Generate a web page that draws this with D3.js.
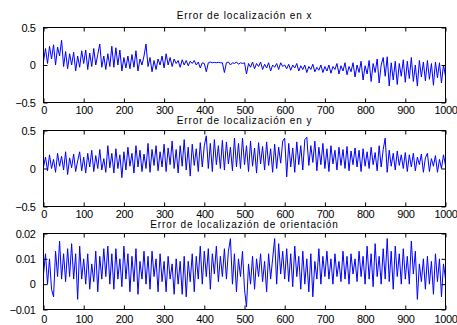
<!DOCTYPE html>
<html>
<head>
<meta charset="utf-8">
<script src="https://cdn.jsdelivr.net/npm/d3@7"></script>
<style>
  body { margin: 0; background: #fff; }
  svg { display: block; }
  .tick text { font-family: "Liberation Sans", Arial, sans-serif; font-size: 11px; fill: #000; letter-spacing: -0.4px; }
  .title { font-family: "Liberation Sans", Arial, sans-serif; font-size: 10px; fill: #000; letter-spacing: 0.9px; }
</style>
</head>
<body>
<figure id="chart" style="margin:0"></figure>
<script>
// sample index -> iteration (every 5 iterations)
const sampleStep = 5;

const errX = [
  0.05, 0.22, 0.02, 0.25, 0.08, 0.27, 0.0, 0.24, 0.12, 0.33, -0.02,
  0.18, -0.05, 0.15, 0.0, 0.17, -0.08, 0.12, -0.03, 0.19, 0.02,
  0.2, -0.06, 0.16, -0.02, 0.22, 0.0, 0.14, 0.28, -0.03, 0.12,
  -0.06, 0.15, -0.02, 0.25, -0.03, 0.23, 0.0, 0.2, -0.08, 0.1,
  -0.04, 0.12, -0.05, 0.14, -0.03, 0.19, -0.08, 0.08, 0.0, 0.12,
  0.28, -0.02, 0.1, -0.09, 0.06, -0.06, 0.08, 0.0, 0.12, -0.04,
  0.15, 0.0, 0.1, -0.02, 0.08, 0.02, 0.06, -0.03, 0.07, 0.0,
  0.06, -0.01, 0.05, 0.02, 0.06, 0.0, 0.04, -0.04, 0.03, 0.02,
  -0.09, 0.03, 0.04, 0.03, 0.035, 0.03, 0.035, 0.03, 0.03, -0.1,
  0.03, 0.04, 0.0, 0.03, 0.02, 0.04, 0.01, 0.03, 0.02, 0.03,
  -0.12, 0.02, -0.03, 0.04, -0.05, 0.02, -0.02, 0.04, -0.06, 0.01,
  -0.04, 0.03, -0.08, 0.0, -0.03, 0.02, -0.06, 0.03, -0.02, 0.0,
  -0.05, 0.01, -0.07, 0.0, -0.04, 0.02, -0.08, -0.01, -0.06, 0.0,
  -0.1, -0.02, -0.06, 0.01, -0.09, -0.03, -0.07, 0.0, -0.1, -0.02,
  -0.08, 0.0, -0.11, -0.02, -0.06, 0.02, -0.12, -0.01, -0.08, 0.03,
  -0.13, -0.02, -0.09, 0.03, -0.16, 0.0, -0.1, 0.05, -0.2, -0.01,
  -0.12, 0.06, -0.22, 0.02, -0.1, 0.08, -0.24, 0.0, 0.1, -0.15,
  0.11, -0.28, 0.03, -0.2, 0.05, -0.26, 0.02, -0.15, 0.07, -0.23,
  0.05, -0.18, 0.1, -0.22, 0.0, -0.28, 0.06, -0.16, 0.04, -0.21,
  0.06, -0.19, 0.02, -0.27, 0.04, -0.17, 0.03, -0.24, 0.0, -0.15
];

const errY = [
  0.02, 0.15, -0.03, 0.18, 0.0, 0.12, -0.05, 0.2, 0.03, 0.16, -0.02,
  0.22, -0.08, 0.14, 0.01, 0.19, -0.04, 0.1, 0.22, -0.03, 0.15,
  -0.06, 0.2, 0.02, 0.24, -0.04, 0.17, 0.0, 0.25, -0.02, 0.13,
  -0.05, 0.3, 0.01, 0.2, -0.06, 0.26, 0.0, 0.18, -0.12, 0.22,
  -0.02, 0.28, 0.03, 0.2, -0.06, 0.3, 0.02, 0.24, -0.04, 0.19,
  0.0, 0.33, -0.05, 0.25, 0.04, 0.3, -0.03, 0.22, 0.02, 0.32,
  -0.04, 0.27, 0.05, 0.36, 0.0, 0.25, -0.06, 0.3, 0.03, 0.38,
  -0.02, 0.28, -0.1, 0.32, 0.04, 0.26, -0.04, 0.34, 0.02, 0.3,
  0.43, 0.0, 0.33, -0.04, 0.38, 0.05, 0.3, 0.0, 0.37, -0.02,
  0.35, 0.06, 0.28, -0.03, 0.4, 0.02, 0.33, 0.0, 0.4, 0.05,
  0.3, -0.04, 0.36, 0.03, 0.27, -0.06, 0.34, 0.06, 0.29, -0.02,
  0.35, 0.04, 0.26, -0.05, 0.32, 0.0, 0.28, 0.07, 0.36, 0.4,
  -0.11, 0.33, 0.02, 0.27, -0.05, 0.35, 0.05, 0.3, -0.02, 0.38,
  0.41, 0.04, 0.3, 0.08, 0.36, -0.03, 0.28, 0.05, 0.33, 0.0,
  0.26, -0.04, 0.3, 0.06, 0.24, -0.02, 0.28, 0.04, 0.25, 0.0,
  0.29, -0.03, 0.23, 0.05, 0.27, 0.02, 0.24, -0.04, 0.26, 0.03,
  0.22, 0.0, 0.28, 0.05, 0.21, -0.03, 0.3, 0.02, 0.25, 0.4,
  -0.05, 0.24, 0.03, 0.2, -0.02, 0.23, 0.04, 0.18, 0.0, 0.21,
  -0.04, 0.18, 0.02, 0.2, -0.03, 0.15, 0.05, 0.19, -0.05, 0.14,
  0.2, -0.04, 0.13, 0.03, 0.17, -0.05, 0.12, 0.0, 0.18, 0.04
];

const errTheta = [
  0.004, 0.012, 0.0, 0.01, -0.002, -0.005, 0.013, 0.003, 0.017, 0.002, 0.012,
  0.001, 0.014, 0.003, 0.016, 0.002, 0.012, -0.006, 0.015, 0.002, 0.01,
  0.0, 0.012, -0.002, 0.008, 0.001, 0.013, -0.003, 0.011, 0.002, 0.014,
  0.003, 0.015, 0.0, 0.012, -0.002, 0.014, 0.002, 0.01, -0.001, 0.015,
  0.002, 0.012, -0.003, 0.011, 0.001, 0.014, -0.004, 0.009, 0.002, 0.013,
  0.0, 0.011, -0.002, 0.013, 0.003, 0.01, -0.003, 0.012, 0.001, 0.009,
  -0.003, 0.011, 0.002, 0.008, -0.004, 0.01, 0.0, 0.009, -0.004, 0.011,
  -0.005, 0.009, 0.001, 0.012, -0.003, 0.011, 0.002, 0.015, 0.0, 0.013,
  0.003, 0.014, -0.002, 0.012, 0.004, 0.015, 0.001, 0.011, 0.003, 0.014,
  0.002, 0.013, 0.018, 0.0, 0.012, -0.003, 0.01, 0.003, 0.013, -0.002,
  -0.009, 0.008, 0.0, 0.011, -0.002, 0.01, 0.003, 0.012, 0.001, 0.009,
  -0.003, 0.012, 0.002, 0.01, 0.018, 0.0, 0.016, 0.004, 0.013, 0.002,
  0.014, 0.001, 0.012, -0.001, 0.015, 0.003, 0.011, -0.002, 0.013, 0.0,
  0.01, -0.003, 0.012, -0.005, 0.009, 0.002, 0.014, 0.0, 0.011, 0.003,
  0.013, 0.002, 0.01, 0.0, 0.012, 0.003, 0.009, 0.001, 0.013, 0.002,
  0.011, 0.0, 0.012, 0.004, 0.01, 0.001, 0.013, 0.003, 0.011, 0.0,
  0.015, 0.002, 0.012, -0.001, 0.016, 0.003, 0.011, 0.0, 0.014, 0.002,
  0.018, 0.001, 0.013, -0.002, 0.015, 0.003, 0.012, 0.0, 0.014, 0.002,
  0.011, 0.0, 0.017, 0.004, 0.013, -0.006, 0.008, 0.001, 0.01, -0.002,
  0.011, 0.0, 0.009, -0.004, 0.012, 0.001, 0.01, -0.005, 0.008, 0.002
];

const titles = [
  "Error de localización en x",
  "Error de localización en y",
  "Error de localizazión de orientación"
];
const xTicks = [0, 100, 200, 300, 400, 500, 600, 700, 800, 900, 1000];
const yTicksPos = [-0.5, 0, 0.5];
const yTicksTheta = [-0.01, 0, 0.01, 0.02];

const width = 457, height = 325;
const left = 43.5, right = 445.5;
const panels = [
  { data: errX, top: 27.5, bottom: 102.5, domain: [-0.5, 0.5], ticks: yTicksPos,
    title: titles[0], titleY: 18.5, labelPad: 3.5 },
  { data: errY, top: 130.5, bottom: 206.5, domain: [-0.5, 0.5], ticks: yTicksPos,
    title: titles[1], titleY: 124, labelPad: 4 },
  { data: errTheta, top: 233.5, bottom: 309.5, domain: [-0.01, 0.02], ticks: yTicksTheta,
    title: titles[2], titleY: 227.5, labelPad: 5.5 }
];

const svg = d3.select("#chart").append("svg")
  .attr("width", width)
  .attr("height", height);

const x = d3.scaleLinear().domain([0, 1000]).range([left, right]);
const tickLen = 4;

panels.forEach(p => {
  const y = d3.scaleLinear().domain(p.domain).range([p.bottom, p.top]);
  const g = svg.append("g");

  // series
  const line = d3.line()
    .x((d, i) => x(i * sampleStep))
    .y(d => y(d));
  g.append("path")
    .datum(p.data)
    .attr("fill", "none")
    .attr("stroke", "#0000ff")
    .attr("stroke-width", 1)
    .attr("d", line);

  // box
  g.append("rect")
    .attr("x", left).attr("y", p.top)
    .attr("width", right - left).attr("height", p.bottom - p.top)
    .attr("fill", "none").attr("stroke", "#000").attr("stroke-width", 1);

  // axes with inward ticks on all four sides
  const fmt = d3.format("~g");
  g.append("g")
    .attr("transform", "translate(0," + p.bottom + ")")
    .call(d3.axisBottom(x).tickValues(xTicks).tickSize(-tickLen).tickPadding(p.labelPad).tickFormat(fmt))
    .call(a => a.select(".domain").remove());
  g.append("g")
    .attr("transform", "translate(0," + p.top + ")")
    .call(d3.axisTop(x).tickValues(xTicks).tickSize(-tickLen).tickFormat(""))
    .call(a => a.select(".domain").remove());
  g.append("g")
    .attr("transform", "translate(" + left + ",0)")
    .call(d3.axisLeft(y).tickValues(p.ticks).tickSize(-tickLen).tickPadding(8).tickFormat(fmt))
    .call(a => a.select(".domain").remove());
  g.append("g")
    .attr("transform", "translate(" + right + ",0)")
    .call(d3.axisRight(y).tickValues(p.ticks).tickSize(-tickLen).tickFormat(""))
    .call(a => a.select(".domain").remove());

  g.append("text")
    .attr("class", "title")
    .attr("x", (left + right) / 2)
    .attr("y", p.titleY)
    .attr("text-anchor", "middle")
    .text(p.title);
});
</script>
</body>
</html>
